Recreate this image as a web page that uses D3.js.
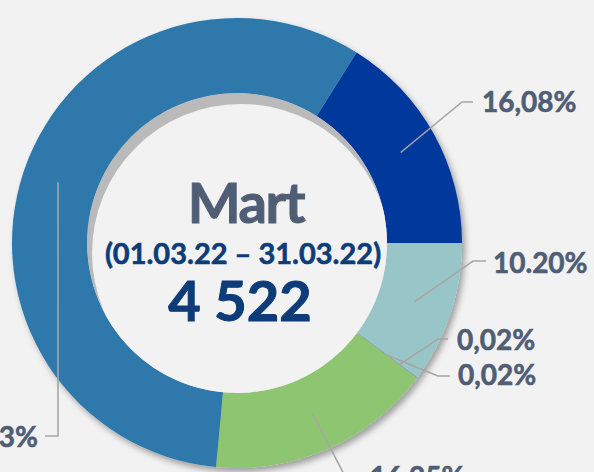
<!DOCTYPE html>
<html>
<head>
<meta charset="utf-8">
<script src="https://cdn.jsdelivr.net/npm/d3@7"></script>
<style>
  body { margin: 0; background: #f2f2f2; overflow: hidden; }
  text { font-family: Lato, "Open Sans", sans-serif; font-weight: 700; }
</style>
</head>
<body>
<svg id="chart" width="594" height="472"></svg>
<script>
// slice shares (percent), clockwise starting with the dark blue slice
var categories = ["s1", "s2", "s3", "s4", "s5", "s6"];
var shares = [16.08, 10.20, 0.02, 0.02, 16.25, 57.43];
var shareLabels = ["16,08%", "10.20%", "0,02%", "0,02%", "16,25%", "57,43%"];
var sliceColors = ["#02379b", "#98c5c7", "#8f8ff5", "#4f4ff2", "#8dc56f", "#2d78ab"];

// centre texts
var monthName = "Mart";
var period = "(01.03.22 – 31.03.22)";
var total = "4 522";

// where the leader lines bend and the labels sit
var labelLayout = [
  { r: 187, elbow: [462, 102], end: [473, 102], x: 482, y: 112, anchor: "start" },
  { r: 187, elbow: [473, 261], end: [486, 261], x: 493, y: 273, anchor: "start" },
  { r: 203, elbow: [438, 339], end: [448, 339], x: 457, y: 350, anchor: "start" },
  { r: 187, elbow: [438, 376], end: [450, 376], x: 458, y: 385, anchor: "start" },
  { r: 187, elbow: [349, 484], end: [361, 484], x: 370, y: 487, anchor: "start" },
  { r: 189, elbow: [58, 436], end: [45, 436], x: 38, y: 447, anchor: "end" }
];

function main() {
  var svg = d3.select("#chart");
  var cx = 237, cy = 243, outerR = 225, innerR = 150;

  var defs = svg.append("defs");
  var shadow = defs.append("filter").attr("id", "ringShadow")
    .attr("x", "-10%").attr("y", "-10%").attr("width", "125%").attr("height", "125%");
  shadow.append("feDropShadow")
    .attr("dx", 3).attr("dy", 4).attr("stdDeviation", 3)
    .attr("flood-color", "#000").attr("flood-opacity", 0.35);

  defs.append("clipPath").attr("id", "holeClip")
    .append("circle").attr("cx", 0).attr("cy", 0).attr("r", innerR);
  var blur = defs.append("filter").attr("id", "soft");
  blur.append("feGaussianBlur").attr("stdDeviation", 0.7);

  var g = svg.append("g").attr("transform", "translate(" + cx + "," + cy + ")");

  // dark blue slice ends exactly at 3 o'clock
  var start = Math.PI / 2 - shares[0] / 100 * 2 * Math.PI;
  var pie = d3.pie().sort(null).value(d => d)
    .startAngle(start).endAngle(start + 2 * Math.PI);
  var arcs = pie(shares);
  var arc = d3.arc().innerRadius(innerR).outerRadius(outerR);

  g.append("g").attr("filter", "url(#ringShadow)")
    .selectAll("path")
    .data(arcs)
    .enter().append("path")
    .attr("d", arc)
    .attr("fill", (d, i) => sliceColors[i]);

  // inner shadow of the hole (top-left)
  var hole = g.append("g").attr("clip-path", "url(#holeClip)");
  hole.append("circle").attr("r", innerR).attr("fill", "#bababa");
  hole.append("circle").attr("cx", 4).attr("cy", 10).attr("r", innerR - 1)
    .attr("fill", "#f2f2f2").attr("filter", "url(#soft)");

  // leader lines and labels
  var leaders = svg.append("g");
  arcs.forEach(function(d, i) {
    var lay = labelLayout[i];
    var c = d3.arc().innerRadius(lay.r).outerRadius(lay.r).centroid(d);
    var pts = [[cx + c[0], cy + c[1]], lay.elbow, lay.end];
    leaders.append("path")
      .attr("d", d3.line()(pts))
      .attr("fill", "none")
      .attr("stroke", "#a6a6a6")
      .attr("stroke-width", 1.6);
    leaders.append("text")
      .attr("x", lay.x).attr("y", lay.y)
      .attr("text-anchor", lay.anchor)
      .attr("font-size", 28)
      .attr("fill", "#4f5d75")
      .attr("stroke", "#4f5d75").attr("stroke-width", 0.6)
      .text(shareLabels[i]);
  });

  // centre texts
  var tx = cx + 6;
  svg.append("text").attr("x", tx + 3).attr("y", 223)
    .attr("text-anchor", "middle").attr("font-size", 56)
    .attr("letter-spacing", -1.5)
    .attr("fill", "#505e75").attr("stroke", "#505e75").attr("stroke-width", 1)
    .text(monthName);
  svg.append("text").attr("x", tx).attr("y", 264)
    .attr("text-anchor", "middle").attr("font-size", 29)
    .attr("fill", "#0d3c78").attr("stroke", "#0d3c78").attr("stroke-width", 0.6)
    .text(period);
  svg.append("text").attr("x", tx - 3).attr("y", 321)
    .attr("text-anchor", "middle").attr("font-size", 56)
    .attr("fill", "#0d3c78").attr("stroke", "#0d3c78").attr("stroke-width", 1)
    .text(total);
}

main();
</script>
</body>
</html>
